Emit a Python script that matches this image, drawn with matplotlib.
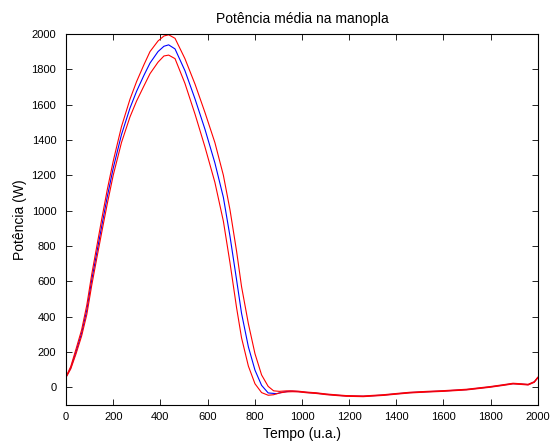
import numpy as np
import matplotlib
matplotlib.use("Agg")
import matplotlib.pyplot as plt

plt.rcParams['font.family'] = ['Liberation Sans', 'DejaVu Sans']

# tempo (u.a.) e potencia media (azul)
tempo = [0, 20, 42, 66, 88, 109, 130, 151, 175, 200, 235, 271, 299, 330, 356,
         390, 415, 435, 462, 504, 547, 589, 631, 667, 695, 723, 744, 773, 801,
         829, 857, 893, 920, 950, 985, 1020, 1060, 1105, 1150, 1189, 1260,
         1345, 1400, 1458, 1530, 1599, 1698, 1797, 1850, 1895, 1930, 1959, 1985, 2000]
media = [58, 110, 200, 306, 437, 608, 760, 910, 1080, 1240, 1430, 1580, 1675, 1765, 1835,
         1900, 1930, 1938, 1915, 1792, 1631, 1460, 1270, 1075, 855, 608, 419, 229, 97,
         11, -32, -36, -27, -22, -24, -29, -33, -40, -45, -49, -51,
         -44, -37, -30, -25, -21, -13, 2, 12, 21, 18, 15, 30, 55]

# limite superior (vermelho)
tempo_sup = [0, 20, 42, 66, 88, 109, 130, 151, 175, 200, 235, 271, 299, 330, 356,
             390, 415, 435, 462, 504, 547, 589, 631, 667, 695, 723, 744, 773, 801,
             829, 857, 880, 905, 935, 960, 985, 1020, 1060, 1105, 1150, 1189, 1260,
             1345, 1400, 1458, 1530, 1599, 1698, 1797, 1850, 1895, 1930, 1959, 1985, 2000]
superior = [60, 118, 215, 325, 465, 640, 795, 950, 1120, 1280, 1475, 1630, 1730, 1825, 1900,
            1960, 1988, 1995, 1975, 1860, 1715, 1555, 1385, 1200, 1005, 770, 570, 360, 190,
            70, 5, -20, -23, -20, -20, -22, -27, -31, -38, -43, -47, -49,
            -42, -35, -28, -23, -19, -11, 4, 14, 23, 20, 17, 32, 57]

# limite inferior (vermelho)
tempo_inf = [0, 20, 42, 66, 88, 109, 130, 151, 175, 200, 235, 271, 299, 330, 356,
             390, 415, 435, 462, 504, 547, 589, 631, 667, 695, 723, 744, 773, 801,
             829, 857, 880, 905, 935, 960, 985, 1020, 1060, 1105, 1150, 1189, 1260,
             1345, 1400, 1458, 1530, 1599, 1698, 1797, 1850, 1895, 1930, 1959, 1985, 2000]
inferior = [56, 104, 188, 290, 412, 578, 728, 875, 1040, 1200, 1385, 1530, 1620, 1705, 1775,
            1840, 1875, 1880, 1860, 1720, 1545, 1360, 1160, 940, 705, 450, 280, 120, 20,
            -30, -45, -42, -32, -26, -25, -26, -31, -35, -42, -47, -51, -53,
            -46, -39, -32, -27, -23, -15, 0, 10, 19, 16, 13, 28, 53]

fig = plt.figure(figsize=(5.55, 4.46), dpi=100)
ax = fig.add_axes([0.119, 0.092, 0.850, 0.832])

ax.plot(tempo, media, color='#0000ff', linewidth=0.8)
ax.plot(tempo_sup, superior, color='#ff0000', linewidth=0.8)
ax.plot(tempo_inf, inferior, color='#ff0000', linewidth=0.8)

ax.set_xlim(0, 2000)
ax.set_ylim(-100, 2000)
ax.set_xticks(np.arange(0, 2001, 200))
ax.set_yticks(np.arange(0, 2001, 200))
ax.tick_params(direction='in', top=True, right=True, labelsize=8, length=4, width=0.6)
ax.tick_params(axis='x', pad=5)
ax.tick_params(axis='y', pad=7)
for s in ax.spines.values():
    s.set_linewidth(0.8)

ax.set_title('Potência média na manopla', fontsize=10, pad=8)
ax.set_xlabel('Tempo (u.a.)', fontsize=10, labelpad=4)
ax.set_ylabel('Potência (W)', fontsize=10, labelpad=3)

fig.savefig('out.png', dpi=100, facecolor='white')
